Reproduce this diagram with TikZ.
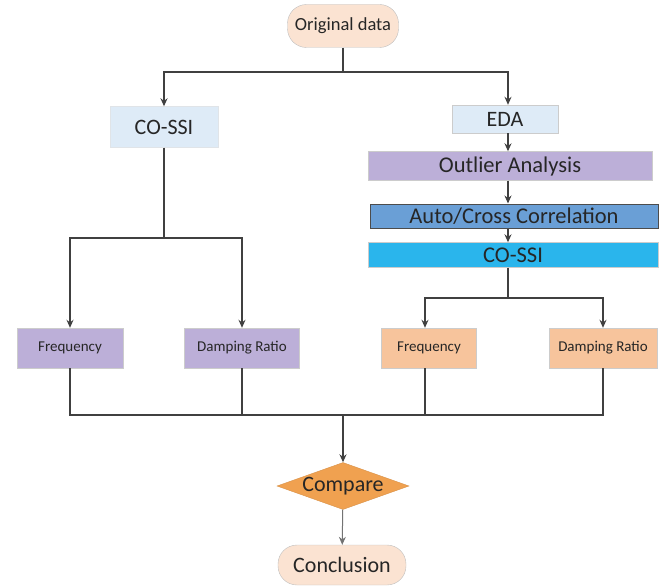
\documentclass[tikz,border=0pt]{standalone}
\usepackage{fontspec}
\setmainfont{Carlito}
\usetikzlibrary{arrows.meta,shapes.geometric}

\definecolor{peach}{HTML}{FBE3D2}
\definecolor{paleblue}{HTML}{DEEBF7}
\definecolor{lavender}{HTML}{BCAFD8}
\definecolor{steelblue}{HTML}{6A9FD6}
\definecolor{skyblue}{HTML}{2AB5EC}
\definecolor{apricot}{HTML}{F7C49C}
\definecolor{tangerine}{HTML}{F0A150}
\definecolor{linegray}{HTML}{404040}

\tikzset{
  box/.style={draw=black!20, text=black!85, inner sep=0pt, align=center},
  pill/.style={box, rounded corners=19pt, fill=peach, draw=black!25},
  link/.style={draw=linegray, line width=1.6pt},
  arr/.style={link, -{Stealth[length=8pt,width=7pt]}},
}

\begin{document}
\begin{tikzpicture}[x=1pt,y=-1pt]
  \useasboundingbox (0,0) rectangle (663,586);

  % Top
  \node[pill, minimum width=111pt, minimum height=43pt, font=\fontsize{18.5}{20}\selectfont]
    (orig) at (343,26) {Original data};

  % Left branch
  \node[box, fill=paleblue, draw=paleblue!80!black!40, minimum width=108pt, minimum height=41pt,
    font=\fontsize{22}{24}\selectfont] (cossiL) at (164,127) {CO-SSI};
  \node[box, fill=lavender, minimum width=106pt, minimum height=40pt,
    font=\fontsize{15}{17}\selectfont] (freqL) at (70,348) {Frequency};
  \node[box, fill=lavender, minimum width=115pt, minimum height=40pt,
    font=\fontsize{15}{17}\selectfont] (dampL) at (242,348) {Damping Ratio};

  % Right branch
  \node[box, fill=paleblue, minimum width=106pt, minimum height=28pt,
    font=\fontsize{22}{24}\selectfont] (eda) at (505,119) {EDA};
  \node[box, fill=lavender, minimum width=284pt, minimum height=29pt,
    font=\fontsize{22.5}{24}\selectfont] (outlier) at (510,166) {Outlier Analysis};
  \node[box, fill=steelblue, draw=black!70, line width=1pt, minimum width=288pt, minimum height=24pt,
    font=\fontsize{22.5}{24}\selectfont] (corr) at (514,216) {Auto/Cross Correlation};
  \node[box, fill=skyblue, minimum width=290pt, minimum height=25pt,
    font=\fontsize{22.5}{24}\selectfont] (cossiR) at (513,255) {CO-SSI};
  \node[box, fill=apricot, minimum width=95pt, minimum height=40pt,
    font=\fontsize{15}{17}\selectfont] (freqR) at (429,348) {Frequency};
  \node[box, fill=apricot, minimum width=108pt, minimum height=40pt,
    font=\fontsize{15}{17}\selectfont] (dampR) at (603,348) {Damping Ratio};

  % Bottom
  \node[diamond, aspect=2.8, inner sep=0pt, minimum width=132pt, minimum height=47pt, fill=tangerine,
    draw=tangerine!90!black, text=black!85, font=\fontsize{22}{24}\selectfont]
    (compare) at (343,486) {Compare};
  \node[pill, minimum width=128pt, minimum height=40pt, font=\fontsize{22}{24}\selectfont]
    (concl) at (342,565) {Conclusion};

  % Split points
  \coordinate (split) at (343,72);
  \coordinate (splitL) at (164,238);
  \coordinate (splitR) at (508,298);
  \coordinate (merge) at (343,415);

  \draw[link] (orig) -- (split);
  \draw[arr] (split) -| (cossiL);
  \draw[arr] (split) -| (eda.north -| splitR);

  \draw[link] (cossiL) -- (splitL);
  \draw[arr] (splitL) -| (freqL);
  \draw[arr] (splitL) -| (dampL);

  \draw[arr] (eda.south -| splitR) -- (outlier.north -| splitR);
  \draw[arr] (outlier.south -| splitR) -- (corr.north -| splitR);
  \draw[arr] (corr.south -| splitR) -- (cossiR.north -| splitR);
  \draw[link] (cossiR.south -| splitR) -- (splitR);
  \draw[arr] (splitR) -| (freqR.north -| 425,0);
  \draw[arr] (splitR) -| (dampR);

  \draw[link] (freqL) |- (merge);
  \draw[link] (dampL) -- (dampL |- merge);
  \draw[link] (freqR.south -| 425,0) -- (425,415);
  \draw[link] (dampR) |- (merge);
  \draw[arr] (merge) -- (compare);
  \draw[arr, draw=black!55, line width=1pt] (compare) -- (concl);
\end{tikzpicture}
\end{document}
